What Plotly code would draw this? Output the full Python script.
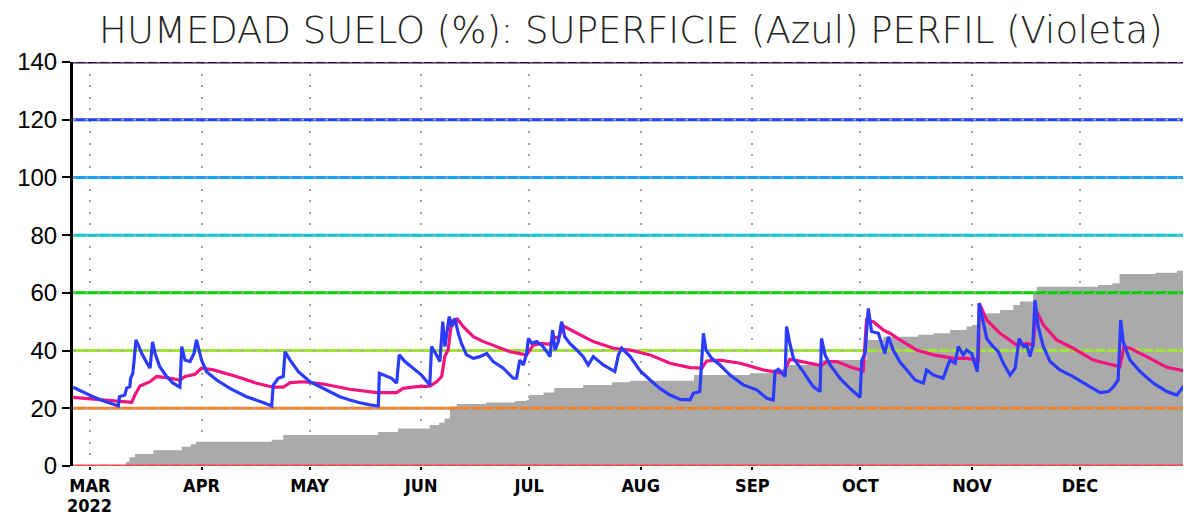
import plotly.graph_objects as go

# days counted from 1 March 2022
month_days = [0, 31, 61, 92, 122, 153, 184, 214, 245, 275]
month_labels = ["MAR", "APR", "MAY", "JUN", "JUL", "AUG", "SEP", "OCT", "NOV", "DEC"]
year_label = "2022"

# surface soil moisture (blue)
blue_day = [-4.7, -2, 1, 4, 7.9, 8.2, 9.7, 10.2, 11.1, 11.3, 11.9, 12.2, 12.8, 13.4, 14.4, 15.7,
            16.7, 17.4, 18.1, 19.4, 21.3, 23.1, 25.0, 25.5, 26.4, 27.8, 28.9, 29.6, 31.0, 32.4,
            35.2, 38.9, 43.5, 48.1, 50.5, 50.9, 52.3, 53.7, 54.2, 55.6, 57.9, 61.1, 64.8, 69.4,
            72.2, 75.0, 77.8, 80.1, 80.4, 82.4, 83.8, 85.2, 85.9, 87.5, 89.8, 92.1, 94.4, 94.9,
            96.5, 97.2, 98.0, 98.6, 99.8, 100.5, 101.4, 102.3, 103.2, 104.6, 106.5, 108.3, 110.2,
            112.0, 114.8, 117.6, 118.5, 119.4, 120.4, 121.3, 121.8, 122.7, 124.1, 125.5, 126.9,
            127.8, 128.5, 129.2, 130.1, 131.0, 131.9, 133.3, 135.2, 137.0, 138.4, 139.8, 142.6,
            145.8, 146.8, 147.7, 150.0, 152.8, 155.6, 158.3, 161.1, 163.9, 166.7, 167.6, 169.4,
            169.9, 170.4, 171.1, 172.7, 175.0, 177.8, 181.5, 185.2, 188.0, 189.8, 190.3, 191.2,
            193.1, 193.5, 194.3, 195.4, 198.1, 200.9, 202.8, 203.2, 204.2, 205.6, 208.3, 211.1,
            213.9, 214.4, 215.3, 216.2, 217.1, 219.0, 220.8, 221.8, 223.1, 225.0, 226.9, 229.2,
            231.5, 232.4, 234.3, 237.0, 238.0, 238.9, 240.3, 241.2, 242.6, 243.5, 244.9, 245.8,
            246.5, 247.0, 248.1, 249.1, 250.5, 252.3, 253.7, 255.6, 257.0, 258.1, 259.3, 260.2,
            261.1, 261.9, 262.5, 263.4, 264.8, 266.7, 269.4, 273.1, 276.9, 280.6, 282.9, 284.3,
            285.6, 286.3, 287.0, 288.9, 291.7, 295.4, 299.1, 301.9, 303.7, 305.0]
blue_val = [27.3, 25.6, 23.9, 22.4, 20.8, 24.0, 24.6, 27.0, 27.5, 30.4, 32.0, 35.6, 43.7, 42.0, 39.0, 36.0,
            33.9, 43.0, 39.0, 34.4, 31.0, 28.7, 27.3, 41.4, 36.7, 36.2, 39.0, 43.7, 36.7, 32.7,
            29.8, 26.9, 24.0, 22.0, 20.8, 28.0, 30.4, 31.0, 39.6, 36.7, 32.7, 29.2, 26.9, 24.0,
            22.9, 21.9, 21.2, 20.8, 32.1, 31.2, 30.4, 28.7, 38.5, 36.2, 33.9, 31.5, 28.1, 41.4,
            37.9, 36.2, 50.0, 41.4, 51.8, 48.3, 51.2, 46.0, 42.5, 38.5, 37.3, 37.9, 39.0,
            36.2, 33.9, 30.4, 30.4, 36.7, 35.0, 39.0, 44.2, 42.5, 43.1, 41.9, 39.6,
            37.9, 47.1, 40.2, 43.1, 50.0, 44.8, 42.5, 40.2, 37.9, 35.0, 37.9, 35.0,
            32.7, 38.5, 40.8, 38.0, 33.0, 29.8, 26.9, 24.6, 23.1, 22.9, 25.2, 25.8,
            34.4, 46.0, 40.2, 37.3, 35.0, 31.5, 28.1, 26.4, 23.5, 22.9, 32.7, 33.5,
            31.0, 48.3, 43.1, 37.3, 32.7, 27.5, 25.8, 44.2, 38.5, 35.0, 30.4, 26.9,
            23.8, 36.7, 39.0, 54.6, 46.6, 46.0, 39.0, 44.8, 40.2, 36.0, 33.3, 29.8,
            28.7, 33.3, 31.5, 30.4, 33.9, 36.7, 35.6, 41.4, 38.5, 40.2, 39.0, 35.6,
            32.7, 56.4, 49.4, 44.2, 41.9, 39.6, 35.6, 31.5, 33.9, 44.2, 41.4, 41.9,
            37.9, 41.9, 57.5, 48.3, 41.4, 36.2, 33.3, 31.0, 28.1, 25.4, 25.8, 27.5,
            29.8, 50.6, 43.1, 36.7, 32.7, 28.7, 25.8, 24.6, 27.5, 27.7]

# profile soil moisture (violet)
prof_day = [-4.7, 3.7, 11.6, 12.5, 13.9, 16.7, 18.5, 21.3, 25.0, 26.4, 29.2, 31.0, 34.3, 40.7, 46.3,
            50.9, 53.7, 55.6, 59.3, 64.8, 72.2, 79.6, 85.2, 87.0, 90.7, 94.4, 96.3, 97.7, 98.6,
            99.5, 100.5, 101.4, 101.9, 103.7, 106.5, 109.3, 113.0, 116.7, 121.3, 123.1, 125.5,
            127.8, 128.9, 130.1, 131.5, 135.2, 139.8, 145.4, 150.0, 155.6, 161.1, 166.7, 170.0,
            171.3, 175.0, 180.6, 187.0, 192.6, 194.4, 196.3, 200.0, 203.2, 204.6, 207.4, 211.1,
            214.8, 215.7, 217.6, 220.4, 222.2, 225.0, 229.6, 234.3, 239.8, 243.5, 246.8, 247.0,
            249.1, 252.8, 257.4, 260.2, 262.0, 262.8, 264.8, 268.5, 273.1, 278.7, 284.3, 286.1,
            287.2, 288.9, 293.5, 299.1, 305.0]
prof_val = [23.8, 22.9, 22.1, 24.6, 27.7, 29.2, 31.0, 30.6, 29.8, 31.0, 31.8, 33.9, 33.3, 31.0, 28.7,
            27.3, 27.3, 28.9, 29.2, 28.4, 26.6, 25.4, 25.4, 26.9, 27.5, 27.7, 29.2, 31.0, 38.1,
            40.2, 50.6, 49.4, 51.2, 48.3, 44.8, 43.1, 41.4, 39.6, 38.5, 41.9, 42.5,
            42.2, 44.8, 44.2, 48.5, 46.0, 43.1, 40.8, 40.2, 38.5, 35.6, 34.1, 33.9,
            36.4, 36.7, 35.6, 33.3, 32.1, 37.0, 36.5, 35.6, 34.8, 36.2, 36.2, 34.4,
            33.0, 50.6, 50.0, 47.1, 46.0, 43.7, 40.2, 38.5, 37.3, 37.3, 36.7, 56.4,
            50.6, 46.0, 41.9, 42.5, 41.9, 54.1, 48.9, 43.7, 40.8, 36.7, 35.0, 34.4,
            41.4, 40.8, 37.9, 34.2, 32.7]

# accumulated amount (gray steps)
gray_day = [-4.7, 10.0, 11.0, 12.5, 17.6, 25.5, 28.0, 29.5, 50.5, 53.7, 80.0, 85.6, 94.4, 97.0,
            98.5, 100.0, 101.9, 110.0, 118.0, 121.3, 122.0, 126.0, 129.0, 137.0, 145.0, 150.0,
            167.8, 183.3, 190.0, 193.5, 203.5, 215.7, 220.4, 230.0, 234.3, 238.9, 243.5, 245.0,
            246.8, 249.0, 252.8, 256.5, 258.3, 262.0, 263.0, 280.0, 284.0, 286.0, 296.0, 302.0, 305.0]
gray_val = [0, 1.5, 3.0, 4.2, 5.5, 6.7, 7.5, 8.4, 9.1, 10.7, 11.8, 13.0, 14.2, 15.0,
            16.5, 20.6, 21.5, 22.0, 22.5, 23.0, 24.6, 25.5, 27.0, 28.1, 29.0, 29.5,
            31.5, 32.1, 33.5, 35.0, 36.7, 43.7, 44.8, 45.5, 46.0, 47.1, 48.3, 48.9,
            51.8, 52.9, 54.1, 55.8, 57.0, 59.8, 62.1, 62.7, 63.3, 66.5, 67.0, 67.7, 67.7]

# reference levels and their colours
levels = [20, 40, 60, 80, 100, 120]
level_colors = ["#f08228", "#a0e632", "#00d200", "#00c8c8", "#10a0ff", "#2040ff"]

x0, x1 = -4.7, 305
tick_font = dict(family="Liberation Sans Narrow, DejaVu Sans Condensed", size=18,
                 color="black", weight=600)

fig = go.Figure()
fig.add_trace(go.Scatter(x=gray_day, y=gray_val, mode="lines", line_shape="hv",
                         line=dict(width=0, color="#aaaaaa"), fill="tozeroy",
                         fillcolor="#aaaaaa", hoverinfo="skip"))

for lev, col in zip(levels, level_colors):
    fig.add_trace(go.Scatter(x=[x0, x1], y=[lev, lev], mode="lines",
                             line=dict(color=col, width=3), hoverinfo="skip"))
    fig.add_trace(go.Scatter(x=[x0, x1], y=[lev, lev], mode="lines",
                             line=dict(color="#a8a8a8", width=1.5, dash="3px,9px"),
                             hoverinfo="skip"))

# edge lines (0 and 140) drawn unclipped
for lev, col in [(0, "#fa3c3c"), (140, "#280838")]:
    fig.add_shape(type="line", xref="x", yref="y", x0=x0, x1=x1, y0=lev, y1=lev,
                  line=dict(color=col, width=3), layer="above")
    fig.add_shape(type="line", xref="x", yref="y", x0=x0, x1=x1, y0=lev, y1=lev,
                  line=dict(color="#b0a0c0" if lev else "#d0a0a0", width=1.2, dash="3px,9px"),
                  layer="above")

fig.add_trace(go.Scatter(x=prof_day, y=prof_val, mode="lines",
                         line=dict(color="#f0147f", width=3.2)))
fig.add_trace(go.Scatter(x=blue_day, y=blue_val, mode="lines",
                         line=dict(color="#2b3cff", width=3.2)))

# year under the first month label
fig.add_annotation(x=month_days[0], y=0, xref="x", yref="paper", text=year_label,
                   showarrow=False, yanchor="top", yshift=-27, font=tick_font)

# the page adds an 8px body margin, so margins are reduced by 8 on top/left
fig.update_layout(
    width=1191, height=514,
    margin=dict(l=65, r=11, t=54, b=56),
    plot_bgcolor="white", paper_bgcolor="white",
    showlegend=False,
    title=dict(text="HUMEDAD SUELO (%): SUPERFICIE (Azul) PERFIL (Violeta)",
               font=dict(family="DejaVu Sans", size=37, color="#222222", weight=200),
               x=0.523, xanchor="center", y=0.958, yanchor="middle", yref="container"),
)
fig.update_xaxes(range=[x0, x1], tickvals=month_days, ticktext=month_labels,
                 automargin=False,
                 showgrid=True, gridcolor="#a0a0a0", gridwidth=2, griddash="2px,9.5px",
                 ticks="outside", ticklen=3, tickwidth=1.5, tickcolor="black",
                 showline=False, zeroline=False, tickfont=tick_font)
fig.update_yaxes(range=[0, 140], tickvals=list(range(0, 141, 20)),
                 automargin=False,
                 showgrid=False, zeroline=False,
                 showline=True, linecolor="black", linewidth=3, mirror=True,
                 ticks="outside", ticklen=8, tickwidth=1.5, tickcolor="black",
                 tickfont=dict(family="Liberation Sans", size=24, color="black"))

fig.write_html("out.html")
